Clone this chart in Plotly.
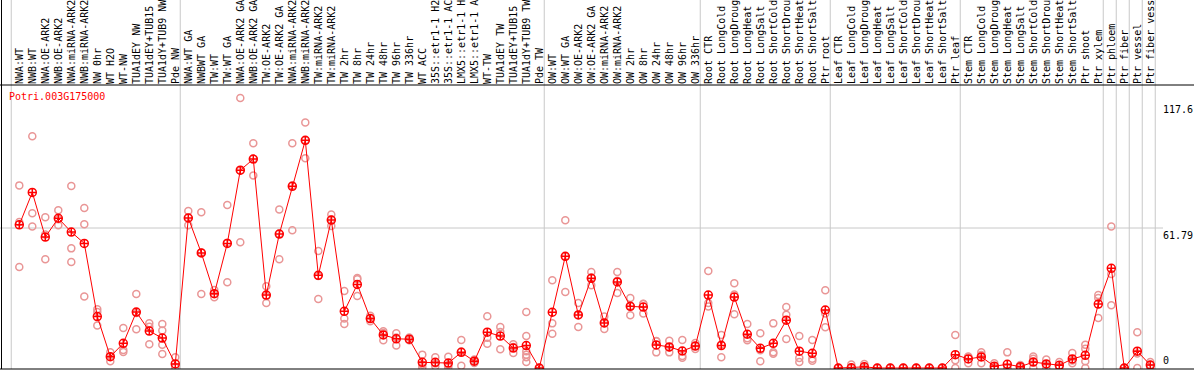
import plotly.graph_objects as go

labels = [
    "NWA:WT", "NWB:WT", "NWA:OE-ARK2", "NWB:OE-ARK2", "NWA:miRNA-ARK2", "NWB:miRNA-ARK2",
    "NW 0hr", "WT H2O", "WT-NW", "TUA1dEY NW", "TUA1dEY+TUB15 NW", "TUA1dY+TUB9 NW", "Pde NW",
    "NWA:WT GA", "NWBWT GA", "TW:WT", "TW:WT GA", "NWA:OE-ARK2 GA", "NWB:OE-ARK2 GA",
    "TW:OE-ARK2", "TW:OE-ARK2 GA", "NWA:miRNA-ARK2 GA", "NWB:miRNA-ARK2 GA", "TW:miRNA-ARK2",
    "TW:miRNA-ARK2 GA", "TW 2hr", "TW 8hr", "TW 24hr", "TW 48hr", "TW 96hr", "TW 336hr",
    "WT ACC", "35S::etr1-1 H2O", "35S::etr1-1 ACC", "LMX5::etr1-1 H2O", "LMX5::etr1-1 ACC",
    "WT-TW", "TUA1dEY TW", "TUA1dEY+TUB15 TW", "TUA1dY+TUB9 TW", "Pde TW",
    "OW:WT", "OW:WT GA", "OW:OE-ARK2", "OW:OE-ARK2 GA", "OW:miRNA-ARK2", "OW:miRNA-ARK2 GA",
    "OW 2hr", "OW 8hr", "OW 24hr", "OW 48hr", "OW 96hr", "OW 336hr",
    "Root CTR", "Root LongCold", "Root LongDrought", "Root LongHeat", "Root LongSalt",
    "Root ShortCold", "Root ShortDrought", "Root ShortHeat", "Root ShortSalt", "Ptr root",
    "Leaf CTR", "Leaf LongCold", "Leaf LongDrought", "Leaf LongHeat", "Leaf LongSalt",
    "Leaf ShortCold", "Leaf ShortDrought", "Leaf ShortHeat", "Leaf ShortSalt", "Ptr leaf",
    "Stem CTR", "Stem LongCold", "Stem LongDrought", "Stem LongHeat", "Stem LongSalt",
    "Stem ShortCold", "Stem ShortDrought", "Stem ShortHeat", "Stem ShortSalt", "Ptr shoot",
    "Ptr xylem", "Ptr phloem", "Ptr fiber", "Ptr vessel", "Ptr fiber vessel",
]

means = [
    63.2, 77.5, 57.8, 66.1, 60.0, 55.0, 22.7, 5.0, 10.9, 24.7, 16.3, 13.2, 1.8,
    66.2, 50.8, 32.8, 55.0, 87.3, 92.2, 32.2, 59.1, 80.2, 100.5, 40.9, 65.3,
    25.0, 36.9, 21.8, 14.6, 12.9, 12.7, 2.5, 2.5, 2.2, 6.9, 3.0, 15.8, 14.1, 8.8, 9.9, 0.0,
    24.6, 49.3, 23.4, 39.6, 19.9, 38.0, 27.2, 26.9, 10.2, 9.3, 7.5, 9.7,
    32.2, 9.9, 31.3, 14.9, 8.7, 10.9, 21.1, 7.4, 6.5, 25.6,
    0.0, 0.1, 0.5, 0.0, 0.0, 0.0, 0.0, 0.0, 0.0, 5.9,
    4.0, 4.9, 0.8, 1.6, 0.6, 2.6, 1.8, 1.2, 4.0, 5.6,
    28.2, 44.0, 0.0, 7.4, 1.3,
]

replicates = [
    [80.6, 64.4, 44.6], [102.3, 68.3, 62.5], [66.5, 58.9, 48.0], [69.6, 65.7, 63.0],
    [80.3, 52.8, 46.8], [70.6, 63.4, 31.6], [25.9, 24.7, 18.8], [6.9, 5.1, 3.0],
    [17.7, 7.9, 7.1], [32.7, 24.3, 17.1], [19.7, 18.2, 10.5], [19.4, 16.5, 10.3, 6.2],
    [4.7, 0.5, 0.2],
    [69.3, 66.3, 63.0], [68.7, 51.0, 32.7], [34.4, 32.8, 31.2], [71.9, 55.3, 37.8],
    [119.2, 87.2, 55.5], [99.2, 92.4, 85.0], [36.1, 31.8, 28.7], [70.0, 59.3, 48.0],
    [99.2, 80.6, 60.8], [108.4, 100.5, 92.6], [51.6, 40.6, 30.5], [67.7, 65.5, 62.7],
    [34.0, 21.8, 19.4], [39.7, 39.2, 31.8], [23.1, 21.7, 20.6], [16.2, 15.4, 12.2],
    [15.3, 13.5, 9.9], [13.5, 12.4, 12.2], [5.9, 1.5, 0.3], [4.7, 2.0, 0.8],
    [5.0, 1.3, 0.3], [12.4, 7.3, 1.0], [3.7, 3.1, 2.2], [22.8, 13.4, 10.7],
    [18.1, 15.9, 8.3], [10.5, 9.3, 6.6], [24.7, 14.1, 7.4, 5.9, 4.7, 2.6], [0.0, 0.0, 0.0],
    [38.7, 19.7, 15.1], [65.2, 49.2, 33.5], [28.7, 23.4, 18.1], [42.4, 39.9, 36.5],
    [22.7, 19.8, 17.2], [42.4, 38.5, 33.1], [30.9, 27.4, 23.3], [28.4, 28.2, 24.1],
    [11.9, 11.8, 6.9], [12.0, 9.0, 6.9], [12.4, 5.3, 4.5], [11.0, 9.7, 8.4],
    [42.8, 28.7, 27.1], [14.6, 10.4, 4.7], [37.4, 32.4, 23.7], [19.4, 13.1, 12.2],
    [15.3, 7.8, 3.0], [19.7, 6.9, 6.3], [26.9, 23.5, 12.8], [14.1, 4.4, 2.6],
    [12.4, 4.1, 3.2], [34.3, 24.1, 18.0],
    [0.0, 0.0, 0.0], [1.5, 0.0, 0.0], [1.8, 0.0, 0.0], [0.0, 0.0, 0.0], [0.0, 0.0, 0.0],
    [0.0, 0.0, 0.0], [0.0, 0.0, 0.0], [0.0, 0.0, 0.0], [0.0, 0.0, 0.0], [14.6, 3.4, 0.0],
    [5.1, 4.8, 2.1], [6.9, 5.7, 2.1], [2.1, 0.2, 0.2], [6.9, 0.0, 0.0], [1.3, 0.3, 0.2],
    [5.1, 4.1, 0.0], [3.8, 1.5, 0.1], [2.6, 0.7, 0.3], [6.6, 3.3, 2.1], [10.3, 8.5, 3.0, 0.0],
    [32.2, 30.9, 22.1], [62.5, 41.5, 27.7], [0.0, 0.0, 0.0], [15.8, 6.4, 0.0], [2.6, 1.3, 0.0],
]

group_starts = [0, 13, 41, 53, 63, 73, 84, 85, 86, 87, 88]
gene = "Potri.003G175000"
axis_marks = [117.6, 61.79, 0]

W, H = 1194, 370
TOP, BOT = 85, 1
X0, X1 = -19.3 / 13, (W - 19.3) / 13
Y0, Y1 = -1 / 2.2657, (368 - TOP) / 2.2657
plot_h = H - TOP - BOT

idx = list(range(len(labels)))
rx, ry = [], []
for i, reps in enumerate(replicates):
    for v in reps:
        rx.append(i)
        ry.append(v)

fig = go.Figure()
fig.add_trace(go.Scatter(
    x=rx, y=ry, mode="markers", hoverinfo="skip",
    marker=dict(symbol="circle-open", size=7, color="rgb(233,150,150)", line=dict(width=1.5)),
))
fig.add_trace(go.Scatter(
    x=idx, y=means, mode="lines+markers",
    line=dict(color="#ff0000", width=1),
    marker=dict(symbol="circle-cross-open", size=8, color="#ff0000", line=dict(width=1.5)),
))

def px_to_paper(xd):
    return (xd - X0) / (X1 - X0)

shapes = []
top_paper = 1 + TOP / plot_h
for s in group_starts:
    xp = px_to_paper(s - 0.62)
    shapes.append(dict(type="line", xref="paper", yref="paper", x0=xp, x1=xp, y0=0, y1=top_paper,
                       line=dict(color="#c8c8c8", width=1), layer="below"))
shapes.append(dict(type="line", xref="paper", yref="y", x0=0, x1=1163 / W, y0=61.79, y1=61.79,
                   line=dict(color="#c8c8c8", width=1), layer="below"))
shapes.append(dict(type="line", xref="paper", yref="paper", x0=0, x1=1, y0=1, y1=1,
                   line=dict(color="black", width=1)))
shapes.append(dict(type="line", xref="paper", yref="paper", x0=0, x1=1, y0=0, y1=0,
                   line=dict(color="black", width=1)))
shapes.append(dict(type="line", xref="paper", yref="paper", x0=1.5 / W, x1=1.5 / W, y0=0, y1=top_paper,
                   line=dict(color="black", width=1)))

annotations = [dict(text=gene, xref="paper", yref="paper", x=7 / W, y=1 - (97 - TOP) / plot_h,
                    xanchor="left", yanchor="middle", showarrow=False,
                    font=dict(family="DejaVu Sans Mono", size=10, color="#ff0000"))]
for v in axis_marks:
    annotations.append(dict(text=(str(v) if v else "0"), xref="paper", yref="y", x=1161 / W, y=v,
                            xanchor="left", yanchor=("bottom" if v == 0 else "top"), showarrow=False,
                            font=dict(family="DejaVu Sans Mono", size=10, color="black")))

fig.update_layout(
    width=W, height=H, margin=dict(l=0, r=0, t=TOP, b=BOT, pad=0, autoexpand=False),
    paper_bgcolor="white", plot_bgcolor="rgba(0,0,0,0)", showlegend=False,
    xaxis=dict(range=[X0, X1], tickvals=idx, ticktext=labels, side="top", tickangle=-90,
               tickfont=dict(family="DejaVu Sans Mono", size=10, color="black"),
               showgrid=False, zeroline=False, showline=False, ticks="", automargin=False),
    yaxis=dict(range=[Y0, Y1], showticklabels=False, showgrid=False, zeroline=False,
               automargin=False),
    shapes=shapes, annotations=annotations,
)
fig.write_html("out.html", config={"displayModeBar": False},
               post_script="document.body.style.margin='0';document.body.style.overflow='hidden';")
